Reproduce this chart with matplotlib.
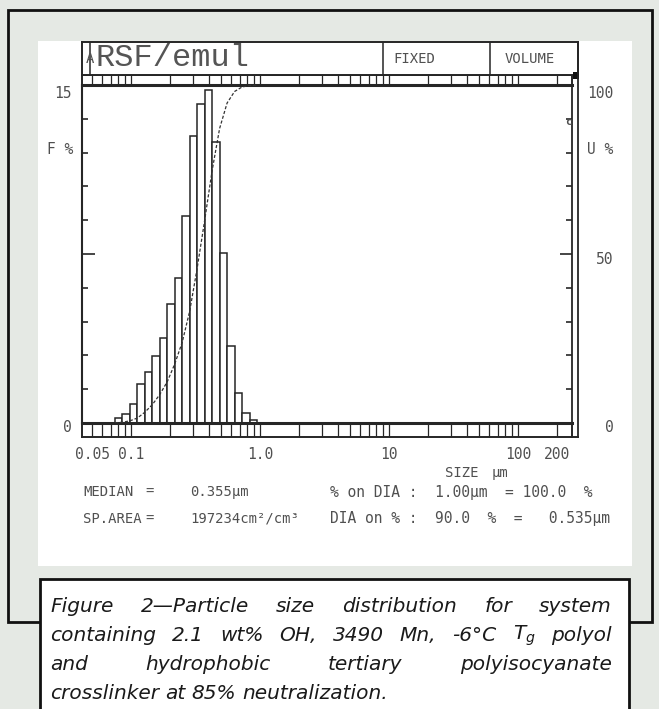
import matplotlib
matplotlib.use("Agg")
import matplotlib.pyplot as plt
from matplotlib.patches import Rectangle
from matplotlib.lines import Line2D
from matplotlib.ticker import NullLocator
import numpy as np

W, H = 659, 709

# particle size bins (um) and frequency (%)
bin_edges = [0.0752, 0.0859, 0.0982, 0.1122, 0.1282, 0.1466, 0.1671, 0.1910, 0.2183, 0.2495,
             0.2851, 0.3258, 0.3724, 0.4256, 0.4864, 0.5559, 0.6353, 0.7261, 0.8299, 0.9462]
freq = [0.24, 0.40, 0.84, 1.73, 2.26, 2.97, 3.77, 5.28, 6.43, 9.19,
        12.74, 14.16, 14.78, 12.47, 7.54, 3.42, 1.33, 0.44, 0.15]

size_ticks = [0.05, 0.1, 1.0, 10, 100, 200]
size_labels = ['0.05', '0.1', '1.0', '10', '100', '200']

caption = ["Figure 2\u2014Particle size distribution for system",
           "containing 2.1 wt% OH, 3490 Mn, -6\u00b0C $T_g$ polyol",
           "and hydrophobic tertiary polyisocyanate",
           "crosslinker at 85% neutralization."]

INK = '#262626'
TXT = '#505050'
MONO = 'DejaVu Sans Mono'
XMIN, XMAX = 0.04171, 262.2

plt.rcParams['mathtext.fontset'] = 'dejavusans'


def fx(x):
    return x / W


def fy(y):
    return 1 - y / H


def rect(x0, y0, x1, y1):
    return [fx(x0), fy(y1), (x1 - x0) / W, (y1 - y0) / H]


def fline(xs, ys, lw=1.2, color=INK):
    fig.add_artist(Line2D([fx(v) for v in xs], [fy(v) for v in ys], color=color, lw=lw))


def ftext(x, y, s, size=9, ha='left', **kw):
    fig.text(fx(x), fy(y), s, fontsize=size, ha=ha, va='center', family=MONO, color=TXT, **kw)


fig = plt.figure(figsize=(W / 100, H / 100), dpi=100)
fig.patch.set_facecolor('#e5e9e4')

# page frame, white printout, caption box
fig.add_artist(Rectangle((fx(8), fy(622)), fx(652) - fx(8), fy(10) - fy(622), fill=False,
                         edgecolor='#111', lw=2, zorder=-2))
fig.add_artist(Rectangle((fx(38), fy(566)), fx(632) - fx(38), fy(41) - fy(566),
                         facecolor='white', edgecolor='none', zorder=-1))
fig.add_artist(Rectangle((fx(40), fy(712)), fx(629) - fx(40), fy(579) - fy(712),
                         facecolor='white', edgecolor='#111', lw=2, zorder=2))

# main histogram
ax = fig.add_axes(rect(82, 85, 572, 423))
ax.set_facecolor('none')
ax.set_xscale('log')
ax.set_xlim(XMIN, XMAX)
ax.set_ylim(0, 15)
ax.bar(bin_edges[:-1], freq, width=np.diff(bin_edges), align='edge',
       color='white', edgecolor=INK, linewidth=1.1, zorder=2)
ax.tick_params(axis='x', which='both', length=0, labelbottom=False)
ax.set_yticks([0, 7.5, 15])
ax.set_yticks(np.arange(1.5, 15, 1.5), minor=True)
ax.set_yticklabels([])
ax.tick_params(axis='y', which='major', direction='in', length=9, width=1.2, color=INK)
ax.tick_params(axis='y', which='minor', direction='in', length=4, width=1.2, color=INK)
ax.spines['top'].set_linewidth(2.2)
ax.spines['bottom'].set_linewidth(2.2)
ax.spines['left'].set_linewidth(1.5)
ax.spines['right'].set_linewidth(1.3)
for s in ax.spines.values():
    s.set_color(INK)

# cumulative curve on the right scale
ax2 = ax.twinx()
ax2.set_ylim(0, 100)
cum = np.concatenate([[0], np.cumsum(freq)])
cum = cum / cum[-1] * 100
ax2.plot(bin_edges, cum, color='#333', lw=0.9, ls=(0, (2.5, 1.5)), zorder=3)
ax2.set_yticks([0, 50, 100])
ax2.set_yticks(np.arange(10, 100, 10), minor=True)
ax2.set_yticklabels([])
ax2.tick_params(axis='y', which='major', direction='in', length=9, width=1.2, color=INK)
ax2.tick_params(axis='y', which='minor', direction='in', length=4, width=1.2, color=INK)
for s in ax2.spines.values():
    s.set_visible(False)

# tick strips above and below the plot
strip_ticks = [m * 10.0 ** e for e in range(-2, 3) for m in range(1, 10)]
strip_ticks = [t for t in strip_ticks if 0.05 <= t <= 200]
for y0, y1, bottom in [(423, 437, True), (75, 85, False)]:
    axs = fig.add_axes(rect(82, y0, 572, y1))
    axs.set_facecolor('none')
    axs.set_xscale('log')
    axs.set_xlim(XMIN, XMAX)
    axs.set_ylim(0, 1)
    axs.vlines(strip_ticks, 0, 1, color=INK, lw=0.9)
    axs.set_yticks([])
    axs.xaxis.set_minor_locator(NullLocator())
    for s in axs.spines.values():
        s.set_color(INK)
        s.set_linewidth(1.4)
    if bottom:
        axs.spines['top'].set_visible(False)
        axs.set_xticks(size_ticks)
        axs.set_xticklabels(size_labels, family=MONO, fontsize=10.5, color=TXT)
        axs.tick_params(axis='x', length=0, pad=7)
    else:
        axs.spines['bottom'].set_visible(False)
        axs.set_xticks([])

# header box
axh = fig.add_axes(rect(82, 42, 578, 75))
axh.set_xlim(82, 578)
axh.set_ylim(75, 42)
axh.set_xticks([])
axh.set_yticks([])
for s in axh.spines.values():
    s.set_color(INK)
    s.set_linewidth(1.4)
for xd in [90, 383, 490]:
    axh.axvline(xd, color=INK, lw=1.1)
axh.text(86, 59, 'A', fontsize=10, family=MONO, color=TXT, va='center')
axh.text(95, 58, 'RSF/emul', fontsize=23, family='Liberation Mono', color='#555', va='center')
axh.text(414, 59, 'FIXED', fontsize=10, family=MONO, color=TXT, va='center', ha='center')
axh.text(530, 59, 'VOLUME', fontsize=10, family=MONO, color=TXT, va='center', ha='center')

# outer right double line and markers
fline([578, 578], [42, 437], lw=1.3)
fline([572, 578], [437, 437], lw=1.4)
fig.add_artist(Rectangle((fx(573), fy(79)), fx(579) - fx(573), fy(72) - fy(79),
                         facecolor='#111', edgecolor='none'))
ftext(569, 122, 'c', size=8, weight='bold', ha='center')

# axis annotations
ftext(72, 94, '15', size=10.5, ha='right')
ftext(73, 150, 'F %', size=10.5, ha='right')
ftext(72, 428, '0', size=10.5, ha='right')
ftext(600, 93, '100', size=10.5, ha='center')
ftext(600, 150, 'U %', size=10.5, ha='center')
ftext(605, 260, '50', size=10.5, ha='center')
ftext(609, 428, '0', size=10.5, ha='center')
ftext(445, 473, 'SIZE', size=10)
ftext(492, 473, '\u00b5m', size=10)

# result lines
ftext(83, 492, 'MEDIAN', size=10)
ftext(145, 492, '=', size=10)
ftext(190, 492, '0.355\u00b5m', size=10)
ftext(83, 519, 'SP.AREA', size=10)
ftext(145, 519, '=', size=10)
ftext(190, 519, '197234cm\u00b2/cm\u00b3', size=10)
ftext(330, 492, '% on DIA :  1.00\u00b5m  = 100.0  %', size=10.5)
ftext(330, 519, 'DIA on % :  90.0  %  =   0.535\u00b5m', size=10.5)

# caption, justified like the printed page
renderer = fig.canvas.get_renderer()
cap_x0, cap_x1 = 50, 612
for i, line in enumerate(caption):
    yc = 606 + i * 29.3
    words = line.split(' ')
    texts = [fig.text(0, fy(yc), w, fontsize=14.5, family='DejaVu Sans', style='italic',
                      color='#1a1a1a', va='center') for w in words]
    widths = [t.get_window_extent(renderer).width for t in texts]
    if i < len(caption) - 1:
        gap = (cap_x1 - cap_x0 - sum(widths)) / (len(words) - 1)
    else:
        gap = 6
    x = cap_x0
    for t, w in zip(texts, widths):
        t.set_x(fx(x))
        x += w + gap

fig.savefig('out.png', dpi=100, facecolor=fig.get_facecolor())
